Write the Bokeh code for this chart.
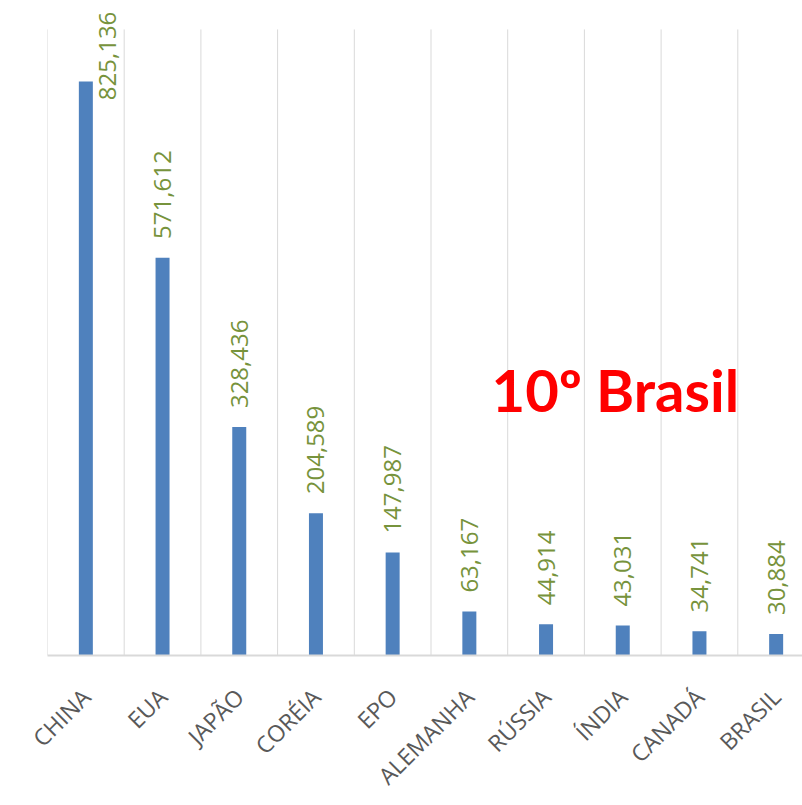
import math
from bokeh.plotting import figure
from bokeh.models import ColumnDataSource, LabelSet, Label, FixedTicker, Range1d
from bokeh.core.properties import value
from bokeh.embed import file_html
from bokeh.resources import INLINE

categories = ["CHINA", "EUA", "JAPÃO", "CORÉIA", "EPO", "ALEMANHA", "RÚSSIA", "ÍNDIA", "CANADÁ", "BRASIL"]
values = [825136, 571612, 328436, 204589, 147987, 63167, 44914, 43031, 34741, 30884]
value_labels = ["825,136", "571,612", "328,436", "204,589", "147,987", "63,167", "44,914", "43,031", "34,741", "30,884"]
note_text = "10º Brasil"
axis_max = 900000

W, H = 802, 805
left_b = 47
plot_top = 29          # where the chart area (gridlines) begins
frame_top = 4          # frame extended upward so labels are not clipped
axis_y = 657
bottom_b = H - axis_y
frame_w = W - left_b
frame_h = axis_y - frame_top
cat_px = 76.7
x_end = frame_w / cat_px
px_per_unit = (axis_y - plot_top) / axis_max
y_end = frame_h / px_per_unit

p = figure(width=W, height=H, output_backend="svg", toolbar_location=None,
           x_range=Range1d(0, x_end), y_range=Range1d(0, y_end),
           min_border_left=left_b, min_border_right=0, min_border_top=frame_top,
           min_border_bottom=bottom_b)
p.outline_line_color = None
p.background_fill_color = "white"
p.border_fill_color = "white"
p.xgrid.visible = False
p.ygrid.visible = False

# category boundary lines (vertical gridlines) up to the axis maximum
bounds = list(range(0, len(categories) + 1))
p.segment(x0=bounds, y0=[0] * len(bounds), x1=bounds, y1=[axis_max] * len(bounds),
          line_color="#D9D9D9", line_width=1)

xs = [i + 0.5 for i in range(len(categories))]
# label placement (computed from values)
gap_px = 19
label_len_px = 88
top_limit_px = axis_y - 12
lx, ly = [], []
for x, v in zip(xs, values):
    start_px = v * px_per_unit + gap_px
    if start_px + label_len_px > top_limit_px:
        lx.append(x + 22 / cat_px)
        ly.append((top_limit_px - label_len_px) / px_per_unit)
    else:
        lx.append(x)
        ly.append(start_px / px_per_unit)

src = ColumnDataSource(dict(x=xs, top=values, lx=lx, ly=ly, txt=value_labels))

p.vbar(x="x", top="top", width=14 / cat_px, bottom=0, source=src,
       fill_color="#4F81BD", line_color=None)

labels = LabelSet(x="lx", y="ly", text="txt", source=src, angle=math.pi / 2,
                  text_align="left", text_baseline="middle",
                  text_font=value("Open Sans"), text_font_size=value("24px"),
                  text_color=value("#77933C"))
p.add_layout(labels)

note = Label(x=(491 - left_b) / cat_px, y=(axis_y - 412 + 22) / px_per_unit,
             text=note_text, text_font="Lato", text_font_style="bold",
             text_font_size="58px", text_color="#FF0000",
             text_align="left", text_baseline="alphabetic")
p.add_layout(note)

p.yaxis.visible = False

p.xaxis.ticker = FixedTicker(ticks=xs)
p.xaxis.major_label_overrides = {x: c for x, c in zip(xs, categories)}
p.xaxis.major_label_orientation = math.pi / 4
p.xaxis.major_label_text_font = "Open Sans"
p.xaxis.major_label_text_font_size = "23px"
p.xaxis.major_label_text_color = "#595959"
p.xaxis.major_label_standoff = 31
p.xaxis.major_tick_line_color = None
p.xaxis.minor_tick_line_color = None
p.xaxis.axis_line_color = "#D9D9D9"
p.xaxis.axis_line_width = 2

open("out.html", "w").write(file_html(p, INLINE))
